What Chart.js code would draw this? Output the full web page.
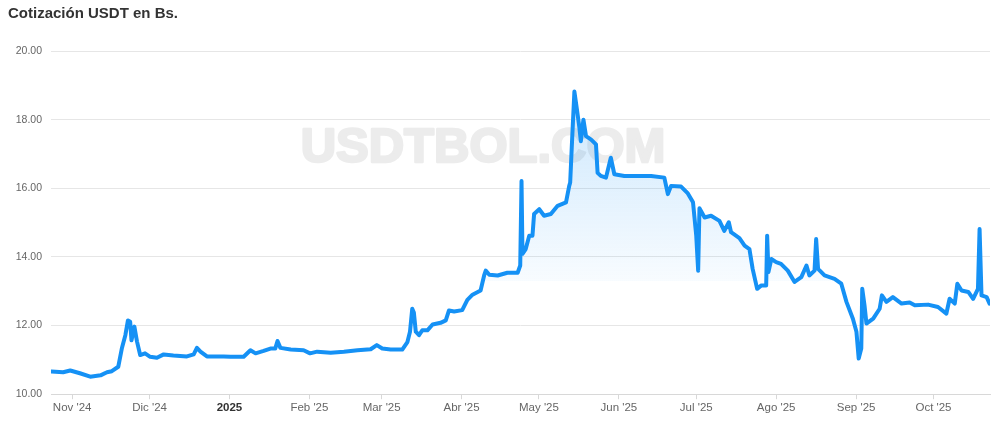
<!DOCTYPE html>
<html><head><meta charset="utf-8">
<script src="https://cdn.jsdelivr.net/npm/chart.js@4.4.1/dist/chart.umd.min.js"></script>
<style>
html,body{margin:0;padding:0;background:#fff;}
#wrap{position:relative;width:1000px;height:425px;}
#title{position:absolute;left:8px;top:4px;font:bold 15px "Liberation Sans",Arial,sans-serif;color:#333;white-space:nowrap;}
canvas{position:absolute;left:0;top:0;}
</style></head><body>
<div id="wrap"><canvas id="c" width="1000" height="425"></canvas><div id="title">Cotización USDT en Bs.</div></div>
<script>
// Observation times (local date + hour)
const dates = [
"2024-10-24 00","2024-10-28 12","2024-10-31 06","2024-11-04 00","2024-11-08 00","2024-11-12 00","2024-11-14 12","2024-11-16 09","2024-11-18 21","2024-11-20 06","2024-11-21 15","2024-11-22 15","2024-11-23 12","2024-11-24 00","2024-11-25 03","2024-11-26 03","2024-11-27 09","2024-11-29 06","2024-12-01 06","2024-12-03 21","2024-12-06 12","2024-12-10 06","2024-12-15 12","2024-12-18 03","2024-12-19 09","2024-12-20 18","2024-12-23 06","2024-12-29 18",
"2025-01-01 09","2025-01-06 12","2025-01-09 03","2025-01-11 03","2025-01-14 06","2025-01-16 21","2025-01-18 18","2025-01-19 15","2025-01-20 18","2025-01-24 18","2025-01-29 18",
"2025-02-01 06","2025-02-04 00","2025-02-09 06","2025-02-14 09","2025-02-19 15","2025-02-24 18","2025-02-27 03",
"2025-03-01 06","2025-03-04 12","2025-03-09 00","2025-03-11 00","2025-03-12 00","2025-03-12 21","2025-03-13 12","2025-03-14 06","2025-03-15 12","2025-03-16 18","2025-03-18 18","2025-03-20 18","2025-03-23 21","2025-03-25 21","2025-03-27 03","2025-03-29 03",
"2025-04-01 06","2025-04-03 06","2025-04-05 06","2025-04-08 09","2025-04-09 18","2025-04-10 09","2025-04-11 18","2025-04-15 00","2025-04-18 18","2025-04-22 18","2025-04-23 18","2025-04-24 06","2025-04-24 15","2025-04-25 21","2025-04-27 06","2025-04-28 12","2025-04-29 03",
"2025-05-01 03","2025-05-03 00","2025-05-05 15","2025-05-08 06","2025-05-11 12","2025-05-12 18","2025-05-13 03","2025-05-13 18","2025-05-14 18","2025-05-15 18","2025-05-16 15","2025-05-17 06","2025-05-18 06","2025-05-19 06","2025-05-21 06","2025-05-23 03","2025-05-23 18","2025-05-25 00","2025-05-27 00","2025-05-28 21","2025-05-30 06",
"2025-06-03 03","2025-06-08 06","2025-06-13 12","2025-06-18 15","2025-06-20 00","2025-06-21 06","2025-06-25 03","2025-06-27 18","2025-06-29 18",
"2025-07-01 00","2025-07-01 18","2025-07-02 06","2025-07-04 06","2025-07-06 18","2025-07-10 00","2025-07-11 21","2025-07-13 15","2025-07-14 12","2025-07-17 18","2025-07-19 18","2025-07-21 15","2025-07-22 21","2025-07-24 15","2025-07-26 06","2025-07-28 03","2025-07-28 12","2025-07-29 00","2025-07-30 03",
"2025-08-01 00","2025-08-02 21","2025-08-05 12","2025-08-08 03","2025-08-10 18","2025-08-12 18","2025-08-13 21","2025-08-15 21","2025-08-16 12","2025-08-17 06","2025-08-19 18","2025-08-23 15","2025-08-26 06","2025-08-28 06","2025-08-30 18",
"2025-09-01 03","2025-09-02 00","2025-09-03 00","2025-09-03 09","2025-09-04 06","2025-09-05 00","2025-09-07 15","2025-09-10 03","2025-09-11 00","2025-09-12 18","2025-09-15 06","2025-09-18 15","2025-09-21 18","2025-09-23 18","2025-09-28 21",
"2025-10-02 18","2025-10-06 00","2025-10-07 06","2025-10-09 06","2025-10-10 06","2025-10-11 21","2025-10-14 12","2025-10-16 09","2025-10-18 06","2025-10-18 21","2025-10-19 15","2025-10-21 15","2025-10-22 18"
];
// USDT price in Bs.
const prices = [
10.66,10.64,10.69,10.61,10.51,10.55,10.64,10.67,10.80,11.33,11.72,12.15,12.11,11.57,11.97,11.54,11.14,11.19,11.09,11.06,11.16,11.13,11.10,11.16,11.35,11.24,11.10,11.10,
11.09,11.09,11.28,11.19,11.26,11.33,11.33,11.55,11.35,11.30,11.28,
11.19,11.24,11.21,11.24,11.28,11.31,11.43,
11.33,11.30,11.30,11.52,11.82,12.49,12.38,11.82,11.72,11.86,11.86,12.03,12.08,12.15,12.44,12.41,
12.45,12.75,12.90,13.02,13.46,13.60,13.48,13.46,13.54,13.54,13.75,16.21,14.09,14.23,14.62,14.62,15.25,
15.39,15.20,15.25,15.49,15.59,16.07,16.17,17.23,18.82,18.29,17.81,17.37,18.00,17.52,17.42,17.28,16.45,16.36,16.31,16.89,16.41,
16.36,16.36,16.36,16.31,15.83,16.07,16.05,15.85,15.59,
14.62,13.60,15.42,15.15,15.20,15.05,14.76,15.01,14.72,14.55,14.33,14.23,13.65,13.07,13.17,13.17,14.62,13.56,13.94,
13.85,13.80,13.60,13.27,13.41,13.75,13.46,13.60,14.52,13.65,13.46,13.36,13.22,12.69,12.20,
11.82,11.04,11.33,13.07,12.59,12.06,12.20,12.49,12.88,12.69,12.83,12.64,12.67,12.59,12.61,
12.54,12.35,12.78,12.64,13.22,13.02,12.98,12.78,13.07,14.81,12.88,12.83,12.64
];
const tickDates = ["2024-11-01 00","2024-12-01 00","2025-01-01 00","2025-02-01 00","2025-03-01 00","2025-04-01 00","2025-05-01 00","2025-06-01 00","2025-07-01 00","2025-08-01 00","2025-09-01 00","2025-10-01 00"];
const tickLabels = ["Nov '24","Dic '24","2025","Feb '25","Mar '25","Abr '25","May '25","Jun '25","Jul '25","Ago '25","Sep '25","Oct '25"];
const yTicks = [10,12,14,16,18,20];
const xRange = ["2024-10-23 19","2025-10-22 22"];
const watermarkText = "USDTBOL.COM";
const fillFloor = 13.3;

function toMs(s){
  const [d,h] = s.split(" ");
  const [Y,M,D] = d.split("-").map(Number);
  return Date.UTC(Y, M-1, D, Number(h||0));
}

const points = dates.map((d,i)=>({x:toMs(d), y:prices[i]}));
const FONT = '"Liberation Sans", Arial, sans-serif';
const BLUE = '#1591f5';

const watermark = {
  id:'wm',
  beforeDatasetsDraw(chart){
    const ctx = chart.ctx; ctx.save();
    ctx.font = 'bold 49px ' + FONT;
    ctx.fillStyle = '#ececec';
    ctx.strokeStyle = '#ececec';
    ctx.lineWidth = 2.5;
    ctx.lineJoin = 'round';
    ctx.textAlign = 'center'; ctx.textBaseline = 'alphabetic';
    ctx.fillText(watermarkText, 483, 162);
    ctx.strokeText(watermarkText, 483, 162);
    ctx.restore();
  }
};

new Chart(document.getElementById('c'), {
  type:'line',
  data:{datasets:[{
    data: points,
    borderColor: BLUE,
    borderWidth: 4,
    pointRadius: 0,
    tension: 0,
    borderJoinStyle: 'round',
    borderCapStyle: 'round',
    fill: {
      target: {value: fillFloor},
      above: (c)=>{
        const {chart} = c; const {ctx, chartArea, scales} = chart;
        if(!chartArea) return 'rgba(0,0,0,0)';
        const yTop = scales.y.getPixelForValue(18.8);
        const yBot = scales.y.getPixelForValue(fillFloor);
        const g = ctx.createLinearGradient(0, yTop, 0, yBot);
        g.addColorStop(0, 'rgba(21,145,245,0.22)');
        g.addColorStop(1, 'rgba(21,145,245,0.03)');
        return g;
      },
      below: 'rgba(0,0,0,0)'
    }
  }]},
  options:{
    responsive:false, animation:false, devicePixelRatio:1,
    layout:{padding:{left:0, right:10, top:51, bottom:8}},
    plugins:{legend:{display:false}, tooltip:{enabled:false}, title:{display:false}},
    scales:{
      x:{
        type:'linear',
        min: toMs(xRange[0]), max: toMs(xRange[1]),
        afterBuildTicks(scale){ scale.ticks = tickDates.map(d=>({value:toMs(d)})); },
        ticks:{
          autoSkip:false, maxRotation:0, padding:2,
          callback:(v,i)=>tickLabels[i],
          font:(c)=>({family:FONT, size:11.5, weight: (c.tick && c.tick.label==='2025') ? 'bold' : 'normal'}),
          color:(c)=> (c.tick && c.tick.label==='2025') ? '#333' : '#666'
        },
        grid:{display:true, drawOnChartArea:false, drawTicks:true, tickLength:5, color:'#d8d8d8'},
        border:{display:true, color:'#d8d8d8', width:1}
      },
      y:{
        min:10, max:20,
        afterBuildTicks(scale){ scale.ticks = yTicks.map(v=>({value:v})); },
        afterFit(scale){ scale.width = 51; },
        ticks:{padding:9, color:'#666', font:{family:FONT, size:10.5}, callback:(v)=>Number(v).toFixed(2)},
        grid:{color:'#e6e6e6', drawTicks:false, lineWidth:1},
        border:{display:false}
      }
    }
  },
  plugins:[watermark]
});
</script>
</body></html>
